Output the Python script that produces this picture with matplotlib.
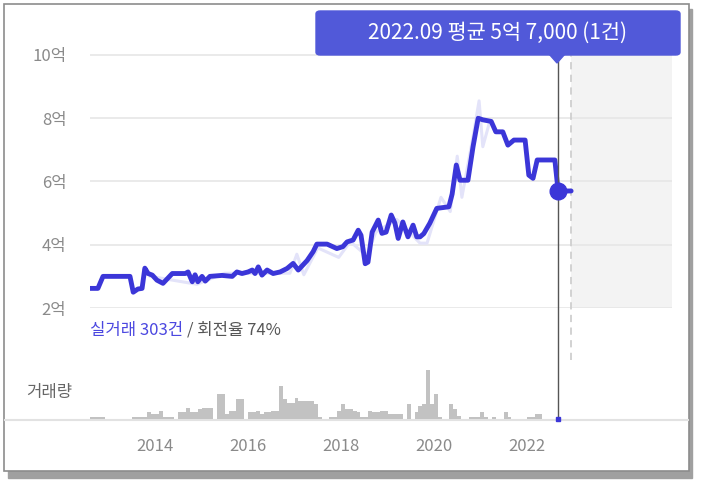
import matplotlib
matplotlib.use("Agg")
import matplotlib.pyplot as plt
from matplotlib.lines import Line2D
from matplotlib.patches import Rectangle, Polygon, FancyBboxPatch
import pandas as pd

plt.rcParams['font.family'] = ['Noto Sans CJK KR', 'DejaVu Sans']

# price line (decimal year, 억 원)
price_years = [2012.60, 2012.77, 2012.88, 2013.46, 2013.53, 2013.63, 2013.72, 2013.78,
               2013.85, 2013.94, 2014.04, 2014.17, 2014.37, 2014.65, 2014.71, 2014.80,
               2014.86, 2014.92, 2015.01, 2015.08, 2015.18, 2015.44, 2015.66, 2015.76,
               2015.87, 2016.00, 2016.09, 2016.15, 2016.22, 2016.30, 2016.41, 2016.54,
               2016.69, 2016.84, 2016.97, 2017.08, 2017.27, 2017.40, 2017.48, 2017.70,
               2017.91, 2018.04, 2018.13, 2018.26, 2018.37, 2018.43, 2018.52, 2018.58,
               2018.67, 2018.80, 2018.88, 2018.97, 2019.08, 2019.16, 2019.23, 2019.33,
               2019.44, 2019.55, 2019.63, 2019.70, 2019.78, 2019.91, 2020.06, 2020.32,
               2020.39, 2020.48, 2020.56, 2020.73, 2020.84, 2020.95, 2021.05, 2021.23,
               2021.33, 2021.48, 2021.59, 2021.72, 2021.96, 2022.04, 2022.13, 2022.22,
               2022.60, 2022.67, 2022.95]
price_vals = [2.62, 2.62, 3.00, 3.00, 2.50, 2.60, 2.62, 3.26,
              3.09, 3.04, 2.88, 2.78, 3.09, 3.09, 3.14, 2.83,
              3.05, 2.83, 3.00, 2.85, 3.00, 3.03, 3.00, 3.14,
              3.09, 3.14, 3.20, 3.09, 3.30, 3.04, 3.20, 3.09,
              3.14, 3.25, 3.41, 3.20, 3.50, 3.78, 4.02, 4.02,
              3.88, 3.94, 4.09, 4.15, 4.46, 4.30, 3.40, 3.45,
              4.40, 4.78, 4.36, 4.40, 4.94, 4.68, 4.20, 4.72,
              4.25, 4.62, 4.25, 4.25, 4.35, 4.68, 5.15, 5.20,
              5.60, 6.52, 6.04, 6.04, 7.10, 8.00, 7.95, 7.90,
              7.57, 7.57, 7.15, 7.31, 7.31, 6.20, 6.10, 6.68,
              6.68, 5.70, 5.70]

# individual trade spread (light band)
raw_years = [2013.90, 2014.90, 2015.50, 2016.90, 2017.05, 2017.20, 2017.50, 2017.95,
             2018.20, 2018.55, 2018.75, 2019.20, 2019.70, 2019.85, 2020.15, 2020.35,
             2020.50, 2020.60, 2020.85, 2020.97, 2021.05, 2021.20]
raw_vals = [3.00, 2.75, 3.10, 3.10, 3.70, 3.05, 3.90, 3.60,
            4.10, 3.65, 4.40, 4.80, 4.05, 4.05, 5.50, 5.05,
            6.80, 5.50, 7.50, 8.55, 7.10, 7.90]

# monthly trade counts from 2012-08 to 2022-08
vol_counts = [1, 1, 1, 1, 0, 0, 0, 0, 0, 0, 0, 1, 1, 1, 1, 4, 3, 3, 5, 1,
              1, 1, 0, 4, 4, 7, 4, 4, 6, 7, 7, 7, 0, 15, 15, 3, 5, 5, 12, 12,
              0, 4, 4, 5, 3, 4, 4, 5, 5, 20, 12, 10, 10, 13, 11, 11, 11, 11, 9, 1,
              0, 0, 1, 1, 5, 9, 6, 6, 5, 4, 1, 1, 5, 4, 4, 5, 5, 3, 3, 3,
              3, 0, 9, 0, 4, 8, 9, 30, 9, 15, 1, 0, 0, 9, 6, 2, 0, 0, 1, 1,
              1, 4, 1, 0, 1, 0, 0, 4, 1, 0, 0, 0, 0, 1, 1, 3, 3, 0, 0, 0, 0]
vol_months = pd.date_range('2012-08-01', periods=len(vol_counts), freq='MS')
vol_x = [d.year + (d.month - 1) / 12 for d in vol_months]

year_ticks = [2014, 2016, 2018, 2020, 2022]
price_ticks = [2, 4, 6, 8, 10]
sel_year = 2022.67
sel_val = 5.7
forecast_start = 2022.95
tooltip = '2022.09 평균 5억 7,000 (1건)'

LINE = '#3b36d8'
W, H = 703, 482

def fx(x):
    return x / W

def fy(y):
    return 1 - y / H

fig = plt.figure(figsize=(7.03, 4.82), dpi=100)

# frame with shadow
fig.add_artist(Rectangle((fx(8), fy(478)), fx(692) - fx(8), fy(9) - fy(478),
                         transform=fig.transFigure, color='#a0a0a0', zorder=-2))
fig.add_artist(Rectangle((fx(4), fy(471)), fx(689) - fx(4), fy(4) - fy(471),
                         transform=fig.transFigure, facecolor='white',
                         edgecolor='#8c8c8c', lw=1.2, zorder=-1))

xlim = (2012.60, 2025.12)
ax = fig.add_axes([fx(90), fy(308), fx(672) - fx(90), fy(36) - fy(308)])
ax.set_xlim(*xlim)
ax.set_ylim(2, 10.6)
ax.patch.set_alpha(0)
for s in ax.spines.values():
    s.set_visible(False)
ax.set_xticks([])
ax.set_yticks(price_ticks)
ax.set_yticklabels([f'{v}억' for v in price_ticks])
ax.tick_params(axis='y', length=0, pad=17, labelsize=12, labelcolor='#8a8a8a')
for v in price_ticks:
    ax.axhline(v, color='#e6e6e6', lw=1.2, zorder=0)
ax.axvspan(forecast_start, xlim[1], color='#f3f3f3', zorder=-1, lw=0)

ax.plot(raw_years, raw_vals, color='#e3e3f9', lw=2.2, zorder=1)
ax.plot(price_years, price_vals, color=LINE, lw=3.5, solid_joinstyle='round',
        solid_capstyle='round', zorder=3)
ax.plot([forecast_start, forecast_start], [0.35, 10.0], color='#cfcfcf', lw=1.3,
        ls=(0, (4, 3)), clip_on=False, zorder=2)
ax.plot([sel_year, sel_year], [-1.52, 10.0], color='#555555', lw=1.0,
        clip_on=False, zorder=4)
ax.plot(sel_year, sel_val, 'o', ms=12, color=LINE, zorder=5)

# volume
vax = fig.add_axes([fx(90), fy(419), fx(672) - fx(90), fy(360) - fy(419)])
vax.set_xlim(*xlim)
vax.set_ylim(0, 36)
vax.patch.set_alpha(0)
for s in vax.spines.values():
    s.set_visible(False)
vax.bar(vol_x, vol_counts, width=1 / 12, align='edge', color='#c2c2c2', lw=0)
vax.plot(sel_year, 0, 's', ms=3, color=LINE, clip_on=False, zorder=5)
vax.set_yticks([])
vax.set_xticks(year_ticks)
vax.set_xticklabels([str(y) for y in year_ticks])
vax.tick_params(axis='x', length=0, pad=14, labelsize=12, labelcolor='#8a8a8a')
fig.add_artist(Line2D([fx(5), fx(688)], [fy(419.5), fy(419.5)], color='#e2e2e2',
                      lw=1.5, transform=fig.transFigure, zorder=-0.5))

fig.text(fx(72), fy(393), '거래량', ha='right', va='center', fontsize=12, color='#666666')

t1 = fig.text(fx(90), fy(330), '실거래 303건', ha='left', va='center', fontsize=12,
              color='#4b47e0')
fig.canvas.draw()
bb = t1.get_window_extent()
fig.text(bb.x1 / W + fx(4), fy(330), '/ 회전율 74%', ha='left', va='center',
         fontsize=12, color='#555555')

# tooltip
TIP = '#5159d9'
fig.add_artist(FancyBboxPatch((fx(316), fy(55)), fx(680) - fx(316), fy(11) - fy(55),
                              boxstyle='round,pad=0,rounding_size=0.006',
                              transform=fig.transFigure, color=TIP, zorder=6))
fig.add_artist(Polygon([[fx(549), fy(54)], [fx(565), fy(54)], [fx(557), fy(63)]],
                       closed=True, transform=fig.transFigure, color=TIP, zorder=6))
fig.text(fx(498), fy(33), tooltip, ha='center', va='center', fontsize=15,
         color='white', zorder=7)

fig.savefig('out.png', dpi=100)
